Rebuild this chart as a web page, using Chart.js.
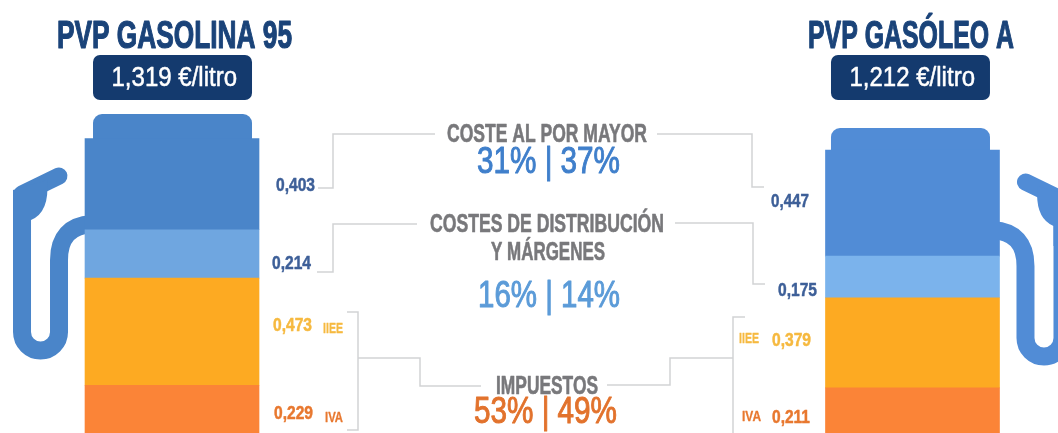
<!DOCTYPE html>
<html lang="es">
<head>
<meta charset="utf-8">
<title>PVP gasolina 95 y gasóleo A</title>
<script src="https://cdn.jsdelivr.net/npm/chart.js@4"></script>
<style>
  html, body { margin: 0; padding: 0; background: #fff; overflow: hidden; }
  canvas { display: block; filter: blur(0.5px); }
</style>
</head>
<body>
<canvas id="pumpChart" width="1058" height="433"></canvas>
<script>
// Datos (€/litro), de abajo arriba en cada surtidor
const fuels = ['PVP GASOLINA 95', '', ' ', 'PVP GASÓLEO A']
const segments = ['IVA', 'IIEE', 'Costes de distribución y márgenes', 'Coste al por mayor']
const gasolinaValues = [0.229, 0.473, 0.214, 0.403]
const gasoleoValues = [0.211, 0.379, 0.175, 0.447]
const totals = [1.319, 1.212]
const gasolinaShares = [31, 16, 53]
const gasoleoShares = [37, 14, 49]

const gasolinaColors = ['#fb8437', '#fdaa22', '#6fa6e0', '#4a85c9']
const gasoleoColors = ['#fb8437', '#fdaa22', '#7bb3ec', '#518cd6']

const NARROW = '"Liberation Sans Narrow", "Liberation Sans", sans-serif'
const SANS = '"Liberation Sans", sans-serif'
const NAVY = '#1a4379'
const LABEL_BLUE = '#3d5f98'
const YELLOW = '#f6b93f'
const ORANGE = '#e8782f'
const GREY = '#78787b'

const euro = (v) => v.toFixed(3).replace('.', ',')
const sharePair = (i) => `${gasolinaShares[i]}% | ${gasoleoShares[i]}%`

// texto ajustado entre x0 y x1 (la fuente original es más estrecha y gruesa)
function fitText(ctx, text, x0, x1, baseline, font, color, weight = 0) {
  ctx.save()
  ctx.font = font
  ctx.fillStyle = color
  ctx.strokeStyle = color
  ctx.lineJoin = 'round'
  ctx.textAlign = 'left'
  ctx.textBaseline = 'alphabetic'
  const width = ctx.measureText(text).width
  ctx.translate(x0, baseline)
  ctx.scale((x1 - x0) / width, 1)
  if (weight) {
    ctx.lineWidth = weight
    ctx.strokeText(text, 0, 0)
  }
  ctx.fillText(text, 0, 0)
  ctx.restore()
}

function polyline(ctx, pts) {
  ctx.beginPath()
  pts.forEach((p, i) => (i ? ctx.lineTo(p[0], p[1]) : ctx.moveTo(p[0], p[1])))
  ctx.stroke()
}

// tapa superior y manguera, por detrás de las barras
function drawPump(ctx, cx, top, capTop, capShift, dir, dy, color) {
  const px = (d) => cx + dir * d
  ctx.save()
  ctx.fillStyle = color
  ctx.strokeStyle = color

  ctx.beginPath()
  ctx.roundRect(cx + capShift - 79.5, capTop, 159, top - capTop + 4, [9, 9, 0, 0])
  ctx.fill()

  ctx.lineWidth = 18
  ctx.lineCap = 'butt'
  ctx.beginPath()
  ctx.moveTo(px(-80), 224 + dy)
  ctx.quadraticCurveTo(px(-113), 226 + dy, px(-113), 260 + dy)
  ctx.lineTo(px(-113), 332 + dy)
  ctx.arc(px(-131.5), 332 + dy, 18.5, dir > 0 ? 0 : Math.PI, dir > 0 ? Math.PI : 0, dir < 0)
  ctx.lineTo(px(-150), 198 + dy)
  ctx.stroke()

  ctx.lineWidth = 17
  ctx.lineCap = 'round'
  polyline(ctx, [[px(-150), 194 + dy], [px(-113), 176 + dy]])

  ctx.beginPath()
  ctx.moveTo(px(-159), 190 + dy)
  ctx.lineTo(px(-125), 180 + dy)
  ctx.quadraticCurveTo(px(-122), 212 + dy, px(-141), 220 + dy)
  ctx.lineTo(px(-141), 240 + dy)
  ctx.lineTo(px(-159), 240 + dy)
  ctx.closePath()
  ctx.fill()
  ctx.restore()
}

function drawConnectors(ctx) {
  ctx.save()
  ctx.strokeStyle = '#d2d3d5'
  ctx.lineWidth = 1.5
  const lines = [
    [[318, 188], [333, 188], [333, 134], [435, 134]],
    [[657, 134], [752, 134], [752, 187], [764, 187]],
    [[317, 272], [333, 272], [333, 224], [417, 224]],
    [[675, 223], [753, 223], [753, 284], [765, 284]],
    [[347, 312], [358, 312], [358, 430], [347, 430]],
    [[358, 358], [420, 358], [420, 386], [481, 386]],
    [[607, 385], [670, 385], [670, 358], [733, 358]],
    [[745, 317], [733, 317], [733, 433]],
  ]
  lines.forEach((l) => polyline(ctx, l))
  ctx.restore()
}

function drawBadge(ctx, cx, i) {
  ctx.save()
  ctx.fillStyle = '#143a6e'
  ctx.beginPath()
  ctx.roundRect(cx - 79.5, 55, 159, 45, 7)
  ctx.fill()
  ctx.restore()
  fitText(ctx, `${euro(totals[i])} €/litro`, cx - 61, cx + 64.5, 86, `27px ${SANS}`, '#ffffff', 0.5)
}

const pumpPlugin = {
  id: 'pumpPlugin',
  beforeDatasetsDraw(chart) {
    const { ctx, scales } = chart
    const left = scales.x.getPixelForValue(0)
    const right = scales.x.getPixelForValue(3)
    drawPump(ctx, left, scales.y.getPixelForValue(totals[0]), 114, 0.5, 1, 0, gasolinaColors[3])
    drawPump(ctx, right, scales.y1.getPixelForValue(totals[1]), 128, -2, -1, 6, gasoleoColors[3])
  },
  afterDatasetsDraw(chart) {
    const { ctx, scales } = chart
    const bold = (size) => `bold ${size}px ${NARROW}`
    const left = scales.x.getPixelForValue(0)
    const right = scales.x.getPixelForValue(3)

    drawConnectors(ctx)

    fitText(ctx, fuels[0], 57, 292, 48, bold(39), NAVY, 1.2)
    fitText(ctx, fuels[3], 808, 1014, 48, bold(39), NAVY, 1.2)
    drawBadge(ctx, left + 0.5, 0)
    drawBadge(ctx, right - 2, 1)

    // valores junto a cada surtidor
    fitText(ctx, euro(gasolinaValues[3]), 276, 315, 191, bold(19), LABEL_BLUE, 0.5)
    fitText(ctx, euro(gasolinaValues[2]), 272, 311, 269, bold(19), LABEL_BLUE, 0.5)
    fitText(ctx, euro(gasolinaValues[1]), 273, 312, 331, bold(19), YELLOW, 0.5)
    fitText(ctx, euro(gasolinaValues[0]), 274, 313, 419, bold(19), ORANGE, 0.5)
    fitText(ctx, segments[1], 323, 343, 333, bold(14), YELLOW, 0.3)
    fitText(ctx, segments[0], 325, 343, 422, bold(14), ORANGE, 0.3)

    fitText(ctx, euro(gasoleoValues[3]), 771, 809, 207, bold(19), LABEL_BLUE, 0.5)
    fitText(ctx, euro(gasoleoValues[2]), 778, 817, 296, bold(19), LABEL_BLUE, 0.5)
    fitText(ctx, euro(gasoleoValues[1]), 772, 811, 346, bold(19), YELLOW, 0.5)
    fitText(ctx, euro(gasoleoValues[0]), 772, 810, 423, bold(19), ORANGE, 0.5)
    fitText(ctx, segments[1], 739, 759, 343, bold(14), YELLOW, 0.3)
    fitText(ctx, segments[0], 742, 761, 421, bold(14), ORANGE, 0.3)

    // bloque central
    fitText(ctx, 'COSTE AL POR MAYOR', 447, 647, 142, bold(25), GREY, 0.6)
    fitText(ctx, sharePair(0), 477, 620, 173, `36px ${SANS}`, '#3f7fcb', 1)
    fitText(ctx, 'COSTES DE DISTRIBUCIÓN', 430, 664, 232, bold(25), GREY, 0.6)
    fitText(ctx, 'Y MÁRGENES', 491, 605, 260, bold(25), GREY, 0.6)
    fitText(ctx, sharePair(1), 478, 620, 307, `36px ${SANS}`, '#5b9bd8', 1)
    fitText(ctx, 'IMPUESTOS', 496, 598, 394, bold(25), GREY, 0.6)
    fitText(ctx, sharePair(2), 474, 617, 423, `36px ${SANS}`, '#e2722c', 1)
  },
}

function buildDatasets() {
  const gasolina = segments.map((name, i) => ({
    label: `${name} (gasolina)`,
    data: [gasolinaValues[i], null, null, null],
    backgroundColor: gasolinaColors[i],
    yAxisID: 'y',
  }))
  const gasoleo = segments.map((name, i) => ({
    label: `${name} (gasóleo)`,
    data: [null, null, null, gasoleoValues[i]],
    backgroundColor: gasoleoColors[i],
    yAxisID: 'y1',
  }))
  return gasolina.concat(gasoleo)
}

new Chart(document.getElementById('pumpChart'), {
  type: 'bar',
  data: { labels: fuels, datasets: buildDatasets() },
  options: {
    responsive: false,
    animation: false,
    barThickness: 174,
    layout: { padding: { left: 48.6, right: 22.1, top: 0, bottom: 0 } },
    plugins: { legend: { display: false }, tooltip: { enabled: false } },
    scales: {
      x: { stacked: true, display: false },
      // cada surtidor tiene su propia escala en el original
      y: { stacked: true, display: false, min: 0.018, max: 1.931 },
      y1: { stacked: true, display: false, position: 'right', min: 0.021, max: 1.843 },
    },
  },
  plugins: [pumpPlugin],
})
</script>
</body>
</html>
